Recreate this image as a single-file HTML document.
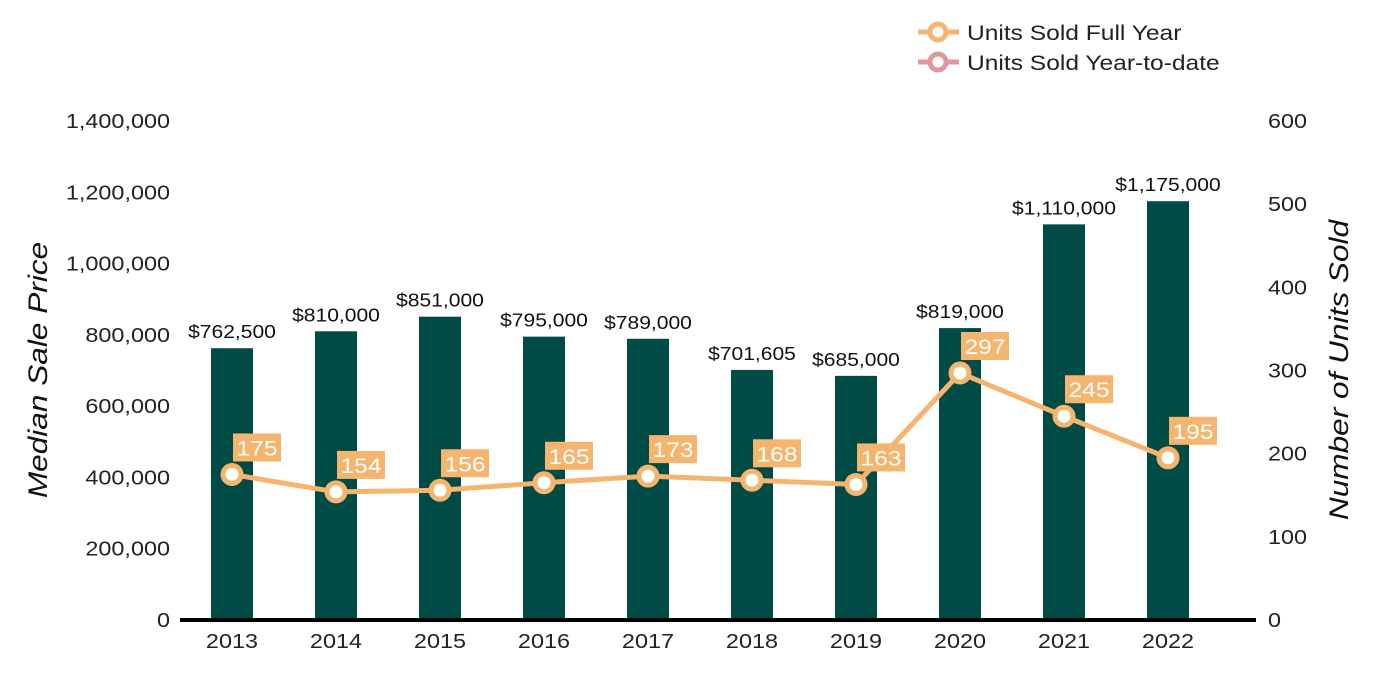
<!DOCTYPE html>
<html><head><meta charset="utf-8"><style>
body{margin:0;background:#fff;}
svg{display:block;font-family:"Liberation Sans",Arial,sans-serif;}
</style></head><body>
<svg id="chart" width="1400" height="700"></svg>
<script>
const years=["2013","2014","2015","2016","2017","2018","2019","2020","2021","2022"];
const prices=[762500,810000,851000,795000,789000,701605,685000,819000,1110000,1175000];
const priceLabels=["$762,500","$810,000","$851,000","$795,000","$789,000","$701,605","$685,000","$819,000","$1,110,000","$1,175,000"];
const units=[175,154,156,165,173,168,163,297,245,195];
const leftTicks=[0,200000,400000,600000,800000,1000000,1200000,1400000];
const rightTicks=[0,100,200,300,400,500,600];
const NS="http://www.w3.org/2000/svg";
const svg=document.getElementById('chart');
const y0=620,yTop=121;
const yL=v=>y0-v/1400000*(y0-yTop);
const yR=v=>y0-v/600*(y0-yTop);
const xC=i=>232+i*104;
const texts=[];
function el(t,a,txt){const e=document.createElementNS(NS,t);for(const k in a)e.setAttribute(k,a[k]);if(txt!==undefined){e.textContent=txt;texts.push(e);}svg.appendChild(e);return e;}
const orange="#F5B56E",pink="#E0979A",green="#004B45";
leftTicks.forEach(v=>{const t=el('text',{x:170,y:yL(v)+7,'text-anchor':'end','font-size':20,fill:'#222'},v.toLocaleString('en-US'));

});
rightTicks.forEach(v=>{const t=el('text',{x:1268,y:yR(v)+7,'font-size':20,fill:'#222'},String(v));

});
years.forEach((yr,i)=>{
const b=el('rect',{x:xC(i)-21,y:yL(prices[i]),width:42,height:y0-yL(prices[i]),fill:green});


const l=el('text',{x:xC(i),y:yL(prices[i])-10,'text-anchor':'middle','font-size':18,fill:'#111'},priceLabels[i]);


const x=el('text',{x:xC(i),y:648,'text-anchor':'middle','font-size':20,fill:'#222'},yr);


});
const ax=el('line',{x1:180,x2:1256,y1:y0,y2:y0,stroke:'#000','stroke-width':4});


const pl=el('polyline',{points:units.map((u,i)=>xC(i)+','+yR(u)).join(' '),fill:'none',stroke:orange,'stroke-width':5});


units.forEach((u,i)=>{
const c=el('circle',{cx:xC(i),cy:yR(u),r:9,fill:'#fff',stroke:orange,'stroke-width':5});


const r=el('rect',{x:xC(i)+1,y:yR(u)-41,width:48,height:28,fill:orange});


const t=el('text',{x:xC(i)+25,y:yR(u)-19,'text-anchor':'middle','font-size':21,fill:'#fff'},String(u));


});
const lt=el('text',{transform:'translate(47,370) rotate(-90)','text-anchor':'middle','font-size':27,'font-style':'italic',fill:'#111'},'Median Sale Price');


const rt=el('text',{transform:'translate(1348,370) rotate(-90)','text-anchor':'middle','font-size':27,'font-style':'italic',fill:'#111'},'Number of Units Sold');


[["Units Sold Full Year",orange,32],["Units Sold Year-to-date",pink,62]].forEach(([n,c,y])=>{
const g=el('line',{x1:918,x2:959,y1:y,y2:y,stroke:c,'stroke-width':5});


const cc=el('circle',{cx:938,cy:y,r:8,fill:'#fff',stroke:c,'stroke-width':5});


const t=el('text',{x:967,y:y+8,'font-size':21,fill:'#222'},n);


});
texts.forEach(t=>{const L=t.getComputedTextLength();t.setAttribute('textLength',(L*1.17).toFixed(1));t.setAttribute('lengthAdjust','spacingAndGlyphs');});
</script>
</body></html>
